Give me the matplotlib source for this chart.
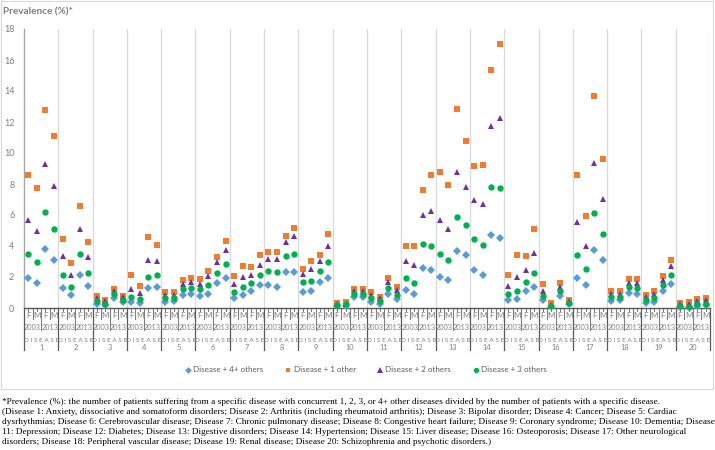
import matplotlib
matplotlib.use("Agg")
import matplotlib.pyplot as plt
from matplotlib.lines import Line2D
from matplotlib.patches import Rectangle
import numpy as np

diseases = [str(i) for i in range(1, 21)]
years = ["2003", "2013"]
sexes = ["F", "M"]

# values per disease: F2003, M2003, F2013, M2013
plus4 = [1.96, 1.63, 3.78, 3.12,  1.27, 0.82, 2.15, 1.42,  0.28, 0.17, 0.62, 0.37,  0.39, 0.34, 1.27, 1.38,
         0.41, 0.43, 0.86, 0.90,  0.80, 0.92, 1.63, 1.96,  0.67, 0.82, 1.12, 1.51,  1.51, 1.33, 2.30, 2.30,
         1.05, 1.08, 1.68, 1.96,  0.13, 0.15, 0.71, 0.69,  0.37, 0.24, 0.88, 0.60,  1.14, 0.90, 2.58, 2.43,
         2.02, 1.81, 3.70, 3.40,  2.47, 2.15, 4.73, 4.54,  0.49, 0.60, 1.08, 1.33,  0.49, 0.11, 0.75, 0.24,
         1.96, 1.51, 3.76, 3.10,  0.47, 0.49, 0.99, 0.92,  0.34, 0.41, 1.08, 1.53,  0.09, 0.06, 0.15, 0.19]
plus1 = [8.58, 7.76, 12.75, 11.10, 4.45, 2.90, 6.60, 4.28,  0.75, 0.54, 1.23, 0.80,  2.13, 1.44, 4.56, 4.06,
         1.03, 1.03, 1.81, 1.94,  1.87, 2.41, 3.29, 4.30,  2.06, 2.71, 2.62, 3.40,  3.59, 3.63, 4.67, 5.18,
         2.54, 3.01, 3.40, 4.75,  0.32, 0.39, 1.23, 1.20,  1.01, 0.73, 1.91, 1.33,  4.00, 4.00, 7.63, 8.56,
         8.77, 7.96, 12.84, 10.80, 9.18, 9.23, 15.33, 17.01, 2.11, 3.40, 3.33, 5.12, 1.57, 0.34, 1.59, 0.54,
         8.56, 5.91, 13.70, 9.59,  1.08, 1.08, 1.85, 1.85,  0.82, 1.12, 2.09, 3.10,  0.32, 0.37, 0.56, 0.65]
plus2 = [5.66, 4.95, 9.31, 7.87,  3.33, 2.13, 5.12, 3.27,  0.62, 0.45, 1.10, 0.71,  1.23, 0.95, 3.12, 3.05,
         0.84, 0.84, 1.55, 1.68,  1.57, 2.04, 2.95, 3.74,  1.55, 2.00, 2.11, 2.77,  3.18, 3.18, 4.26, 4.65,
         2.22, 2.49, 3.01, 3.98,  0.24, 0.28, 1.08, 1.08,  0.86, 0.62, 1.68, 1.16,  3.03, 2.75, 6.00, 6.24,
         5.68, 5.12, 8.77, 7.78,  6.95, 6.71, 11.76, 12.28, 1.44, 2.02, 2.47, 3.53, 1.12, 0.17, 1.35, 0.45,
         5.55, 4.02, 9.35, 7.01,  0.88, 0.90, 1.63, 1.63,  0.71, 0.88, 1.83, 2.69,  0.24, 0.28, 0.43, 0.49]
plus3 = [3.46, 2.99, 6.19, 5.12,  2.13, 1.35, 3.48, 2.24,  0.43, 0.24, 0.92, 0.54,  0.73, 0.60, 2.02, 2.13,
         0.62, 0.65, 1.23, 1.29,  1.23, 1.48, 2.28, 2.82,  1.05, 1.35, 1.59, 2.13,  2.41, 2.30, 3.33, 3.48,
         1.66, 1.76, 2.37, 2.95,  0.19, 0.24, 0.92, 0.90,  0.67, 0.43, 1.29, 0.86,  1.96, 1.63, 4.15, 4.02,
         3.51, 3.12, 5.85, 5.33,  4.43, 4.06, 7.81, 7.74,  0.90, 1.12, 1.70, 2.24,  0.77, 0.15, 1.10, 0.32,
         3.42, 2.54, 6.13, 4.80,  0.73, 0.73, 1.33, 1.31,  0.49, 0.65, 1.46, 2.13,  0.13, 0.09, 0.26, 0.28]

series = [
    ("Disease + 4+ others", plus4, "#5B9BD5", "D", 4.0),
    ("Disease + 1 other", plus1, "#ED7D31", "s", 4.2),
    ("Disease + 2 others", plus2, "#7030A0", "^", 4.6),
    ("Disease + 3 others", plus3, "#00B050", "o", 4.6),
]

yticks = list(range(0, 20, 2))

W, H = 715, 450
fig = plt.figure(figsize=(W / 100, H / 100), dpi=100)
FONT = ["Lato", "DejaVu Sans"]
TXT = "#595959"

def px(x0, y0, x1, y1):
    return [x0 / W, 1 - y1 / H, (x1 - x0) / W, (y1 - y0) / H]

# chart frame
fig.patches.append(Rectangle((0.5 / W, 1 - 389 / H), 712.5 / W, 388 / H, transform=fig.transFigure,
                             fill=False, edgecolor="#D9D9D9", linewidth=0.8))

ax = fig.add_axes(px(24, 29, 710, 308))
n = len(plus1)
x = np.arange(n)
for name, vals, col, mk, ms in series:
    ax.plot(x, vals, linestyle="none", marker=mk, color=col, markersize=ms, markeredgewidth=0,
            label=name, zorder=3, clip_on=False)

ax.set_xlim(-0.5, n - 0.5)
ax.set_ylim(0, 18)
ax.set_yticks(yticks)
ax.set_yticklabels([str(t) for t in yticks], fontsize=6.5, color="#7F7F7F", family=FONT)
ax.tick_params(axis="y", length=0, pad=7)
ax.set_xticks([])
for s in ["top", "right"]:
    ax.spines[s].set_visible(False)
ax.spines["left"].set_color("#A6A6A6")
ax.spines["left"].set_linewidth(1.0)
ax.spines["bottom"].set_color("#595959")
ax.spines["bottom"].set_linewidth(1.0)

# vertical gridlines at disease boundaries
for k in range(1, len(diseases) + 1):
    ax.axvline(4 * k - 0.5, color="#D9D9D9", linewidth=0.9, zorder=0)

trans = ax.get_xaxis_transform()
ah = 279.0

def vline(xd, depth_px, col="#7F7F7F", lw=0.8):
    ax.add_line(Line2D([xd, xd], [0, -depth_px / ah], transform=trans, color=col, linewidth=lw, clip_on=False))

# small ticks every half category
for i in range(2 * n + 1):
    xd = -0.5 + i * 0.5
    vline(xd, 3, col="#595959", lw=0.6)
for d in range(len(diseases)):
    base = 4 * d
    vline(base + 0.5, 11)
    vline(base + 2.5, 11)
    vline(base + 1.5, 22)
    vline(base - 0.5, 42, col="#595959", lw=0.9)
vline(n - 0.5, 42, col="#595959", lw=0.9)

for d, dn in enumerate(diseases):
    base = 4 * d
    for yi, yr in enumerate(years):
        for si, sx in enumerate(sexes):
            xi = base + 2 * yi + si
            ax.text(xi, -8 / ah, sx, transform=trans, ha="center", va="center", fontsize=5.8,
                    color="#7F7F7F", family=FONT)
        ax.text(base + 2 * yi + 0.5, -19.5 / ah, yr, transform=trans, ha="center", va="center",
                fontsize=5.3, color="#7F7F7F", family=FONT)
    ax.text(base + 1.5, -32 / ah, "D I S E A S E", transform=trans, ha="center", va="center",
            fontsize=4.6, color="#7F7F7F", family=FONT)
    ax.text(base + 1.5, -39.5 / ah, dn, transform=trans, ha="center", va="center",
            fontsize=5.3, color="#7F7F7F", family=FONT)

# title
fig.text(3 / W, 1 - 12 / H, "Prevalence (%)*", fontsize=7.2, fontweight="bold", color="#7F7F7F",
         family=FONT, ha="left", va="center")

# legend
leg = fig.legend(*ax.get_legend_handles_labels(), loc="center", bbox_to_anchor=(366 / W, 1 - 370 / H),
                 ncol=4, frameon=False, handlelength=0.7, handletextpad=0.3,
                 columnspacing=2.7, markerscale=0.85, prop={"family": FONT, "size": 5.8})
for t in leg.get_texts():
    t.set_color(TXT)

caption = [
    "*Prevalence (%): the number of patients suffering from a specific disease with concurrent 1, 2, 3, or 4+ other diseases divided by the number of patients with a specific disease.",
    "(Disease 1: Anxiety, dissociative and somatoform disorders; Disease 2: Arthritis (including rheumatoid arthritis); Disease 3: Bipolar disorder; Disease 4: Cancer; Disease 5: Cardiac",
    "dysrhythmias; Disease 6: Cerebrovascular disease; Disease 7: Chronic pulmonary disease; Disease 8: Congestive heart failure; Disease 9: Coronary syndrome; Disease 10: Dementia; Disease",
    "11: Depression; Disease 12: Diabetes; Disease 13: Digestive disorders; Disease 14: Hypertension; Disease 15: Liver disease; Disease 16: Osteoporosis; Disease 17: Other neurological",
    "disorders; Disease 18: Peripheral vascular disease; Disease 19: Renal disease; Disease 20: Schizophrenia and psychotic disorders.)",
]
for i, line in enumerate(caption):
    fig.text(2 / W, 1 - (402 + i * 9.9) / H, line, fontsize=6.68, family="Liberation Serif",
             color="black", ha="left", va="center")

fig.savefig("out.png", dpi=100)
